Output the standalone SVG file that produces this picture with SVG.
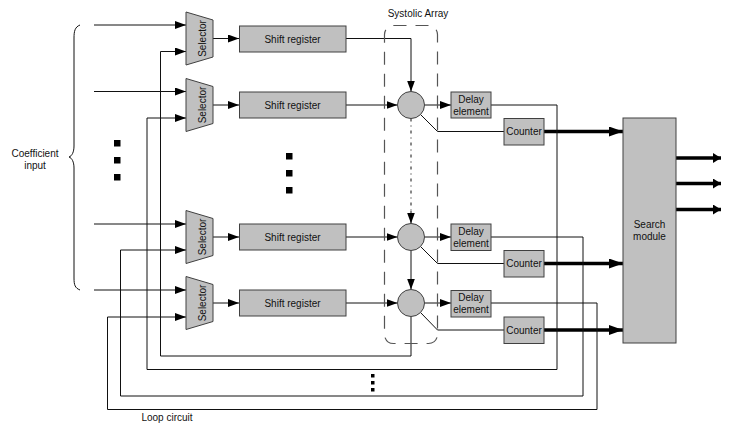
<svg xmlns="http://www.w3.org/2000/svg" width="734" height="428" viewBox="0 0 734 428">
<style>
  .t{font-family:"Liberation Sans",Arial,sans-serif;font-size:10px;fill:#111;text-anchor:middle}
  .box{fill:#c0c0c0;stroke:#404040;stroke-width:1}
  .ln{fill:none;stroke:#111;stroke-width:1}
  .thick{fill:none;stroke:#000;stroke-width:3.5}
  .dash{fill:none;stroke:#555;stroke-width:1.2;stroke-dasharray:13,9}
</style>
<defs>
  <marker id="arr" markerUnits="userSpaceOnUse" markerWidth="11" markerHeight="8" refX="11" refY="4" orient="auto">
    <path d="M0,0 L11,4 L0,8 z" fill="#000"/>
  </marker>
  <marker id="arrT" markerUnits="userSpaceOnUse" markerWidth="14" markerHeight="10" refX="14" refY="5" orient="auto">
    <path d="M0,0 L14,5 L0,10 z" fill="#000"/>
  </marker>
  <marker id="arrS" markerUnits="userSpaceOnUse" markerWidth="8" markerHeight="10" refX="8" refY="5" orient="auto">
    <path d="M0,0 L8,5 L0,10 z" fill="#000"/>
  </marker>
</defs>
<rect width="734" height="428" fill="#fff"/>

<!-- Coefficient input brace and label -->
<g id="coef-input">
  <path class="ln" d="M80,25 C75,27 74,31 74,38 L74,146 C74,152 72,156 69,157 C72,158 74,162 74,168 L74,278 C74,285 75,288 80,290"/>
  <text class="t" x="35" y="157">Coefficient</text>
  <text class="t" x="35" y="169">input</text>
</g>

<!-- Connectors -->
<g id="connectors">
  <!-- coefficient inputs -->
  <line class="ln" x1="94" y1="25" x2="186" y2="25" marker-end="url(#arr)"/>
  <line class="ln" x1="94" y1="91.5" x2="186" y2="91.5" marker-end="url(#arr)"/>
  <line class="ln" x1="94" y1="224" x2="186" y2="224" marker-end="url(#arr)"/>
  <line class="ln" x1="94" y1="290" x2="186" y2="290" marker-end="url(#arr)"/>
  <!-- selector -> shift register -->
  <line class="ln" x1="213" y1="38.5" x2="239" y2="38.5" marker-end="url(#arr)"/>
  <line class="ln" x1="213" y1="105" x2="239" y2="105" marker-end="url(#arr)"/>
  <line class="ln" x1="213" y1="237" x2="239" y2="237" marker-end="url(#arr)"/>
  <line class="ln" x1="213" y1="303" x2="239" y2="303" marker-end="url(#arr)"/>
  <!-- shift register -> PEs -->
  <polyline class="ln" points="346,38.5 411,38.5 411,91.5" marker-end="url(#arr)"/>
  <line class="ln" x1="346" y1="105" x2="397.5" y2="105" marker-end="url(#arr)"/>
  <line class="ln" x1="346" y1="237" x2="397.5" y2="237" marker-end="url(#arr)"/>
  <line class="ln" x1="346" y1="303" x2="397.5" y2="303" marker-end="url(#arr)"/>
  <!-- PE chain -->
  <line class="ln" x1="411" y1="118.5" x2="411" y2="212" stroke-dasharray="3,4,1,4"/>
  <line class="ln" x1="411" y1="211" x2="411" y2="223.5" marker-end="url(#arr)"/>
  <line class="ln" x1="411" y1="250.5" x2="411" y2="289.5" marker-end="url(#arr)"/>
  <!-- PE -> delay -->
  <line class="ln" x1="424.5" y1="105" x2="451" y2="105" marker-end="url(#arr)"/>
  <line class="ln" x1="424.5" y1="237" x2="451" y2="237" marker-end="url(#arr)"/>
  <line class="ln" x1="424.5" y1="303" x2="451" y2="303" marker-end="url(#arr)"/>
  <!-- PE -> counter -->
  <polyline class="ln" points="420.5,114.5 437.5,131.5 504,131.5"/>
  <polyline class="ln" points="420.5,246.5 437.5,263.5 504,263.5"/>
  <polyline class="ln" points="420.5,312.5 437.5,330 504,330"/>
  <!-- counter -> search module -->
  <line class="thick" x1="544" y1="131.5" x2="623" y2="131.5" marker-end="url(#arrT)"/>
  <line class="thick" x1="544" y1="263.5" x2="623" y2="263.5" marker-end="url(#arrT)"/>
  <line class="thick" x1="544" y1="330" x2="623" y2="330" marker-end="url(#arrT)"/>
  <!-- search module outputs -->
  <line class="thick" x1="676" y1="158" x2="721" y2="158" marker-end="url(#arrS)"/>
  <line class="thick" x1="676" y1="183.5" x2="721" y2="183.5" marker-end="url(#arrS)"/>
  <line class="thick" x1="676" y1="209.5" x2="721" y2="209.5" marker-end="url(#arrS)"/>
  <!-- loop circuits -->
  <polyline class="ln" points="411,316.5 411,356 160.5,356 160.5,51.5 186,51.5" marker-end="url(#arr)"/>
  <polyline class="ln" points="491,105 557,105 557,369.5 147,369.5 147,118 186,118" marker-end="url(#arr)"/>
  <polyline class="ln" points="491,237 583,237 583,396 120.5,396 120.5,250 186,250" marker-end="url(#arr)"/>
  <polyline class="ln" points="491,303 597,303 597,409.5 107.5,409.5 107.5,317 186,317" marker-end="url(#arr)"/>
</g>

<!-- Systolic array boundary -->
<g id="systolic-array">
  <rect class="dash" x="384.5" y="25.5" width="53" height="318" rx="9"/>
  <text class="t" x="418" y="17">Systolic Array</text>
</g>

<!-- Selectors -->
<g id="selector1"><polygon class="box" points="186,12 213,20 213,57 186,65"/><text class="t" transform="translate(202.5,38.5) rotate(-90)" y="3.5">Selector</text></g>
<g id="selector2"><polygon class="box" points="186,78.5 213,86.5 213,123.5 186,131.5"/><text class="t" transform="translate(202.5,105) rotate(-90)" y="3.5">Selector</text></g>
<g id="selector3"><polygon class="box" points="186,210.5 213,218.5 213,255.5 186,263.5"/><text class="t" transform="translate(202.5,237) rotate(-90)" y="3.5">Selector</text></g>
<g id="selector4"><polygon class="box" points="186,276.5 213,284.5 213,321.5 186,329.5"/><text class="t" transform="translate(202.5,303) rotate(-90)" y="3.5">Selector</text></g>

<!-- Shift registers -->
<g id="shift1"><rect class="box" x="239.5" y="26" width="106.5" height="26"/><text class="t" x="292.5" y="42.5">Shift register</text></g>
<g id="shift2"><rect class="box" x="239.5" y="92" width="106.5" height="26"/><text class="t" x="292.5" y="108.5">Shift register</text></g>
<g id="shift3"><rect class="box" x="239.5" y="224" width="106.5" height="26"/><text class="t" x="292.5" y="240.5">Shift register</text></g>
<g id="shift4"><rect class="box" x="239.5" y="290" width="106.5" height="26"/><text class="t" x="292.5" y="306.5">Shift register</text></g>

<!-- Processing elements -->
<g id="pe1"><circle class="box" cx="411" cy="105" r="13.5"/></g>
<g id="pe2"><circle class="box" cx="411" cy="237" r="13.5"/></g>
<g id="pe3"><circle class="box" cx="411" cy="303" r="13.5"/></g>

<!-- Delay elements -->
<g id="delay1"><rect class="box" x="451" y="92" width="40" height="26"/><text class="t" x="471" y="102.5">Delay</text><text class="t" x="471" y="114.5">element</text></g>
<g id="delay2"><rect class="box" x="451" y="224" width="40" height="26.5"/><text class="t" x="471" y="234.5">Delay</text><text class="t" x="471" y="246.5">element</text></g>
<g id="delay3"><rect class="box" x="451" y="290.5" width="40" height="26.5"/><text class="t" x="471" y="300.5">Delay</text><text class="t" x="471" y="312.5">element</text></g>

<!-- Counters -->
<g id="counter1"><rect class="box" x="504" y="118.5" width="40" height="26.5"/><text class="t" x="524" y="135">Counter</text></g>
<g id="counter2"><rect class="box" x="504" y="250.5" width="40" height="26.5"/><text class="t" x="524" y="267">Counter</text></g>
<g id="counter3"><rect class="box" x="504" y="317" width="40" height="26.5"/><text class="t" x="524" y="333.5">Counter</text></g>

<!-- Search module -->
<g id="search-module"><rect class="box" x="623" y="118" width="53" height="225"/><text class="t" x="649.5" y="228">Search</text><text class="t" x="649.5" y="240">module</text></g>

<!-- Ellipsis marks -->
<g id="ellipses" fill="#000">
  <rect x="114" y="140" width="6.5" height="6.5"/>
  <rect x="114" y="157" width="6.5" height="6.5"/>
  <rect x="114" y="174" width="6.5" height="6.5"/>
  <rect x="286" y="153" width="6.5" height="6.5"/>
  <rect x="286" y="170" width="6.5" height="6.5"/>
  <rect x="286" y="187" width="6.5" height="6.5"/>
  <rect x="371" y="374" width="3.5" height="3.5"/>
  <rect x="371" y="381" width="3.5" height="3.5"/>
  <rect x="371" y="388" width="3.5" height="3.5"/>
</g>

<text class="t" x="167" y="421">Loop circuit</text>
</svg>
